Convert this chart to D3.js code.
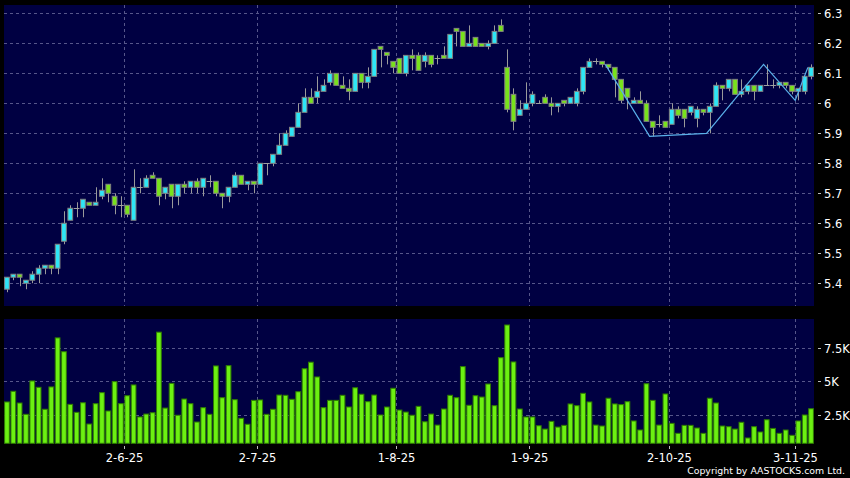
<!DOCTYPE html>
<html>
<head>
<meta charset="utf-8">
<script src="https://cdn.jsdelivr.net/npm/d3@7/dist/d3.min.js"></script>
<style>
  body { margin: 0; background: #000; }
  svg { display: block; font-family: "DejaVu Sans", Verdana, sans-serif; }
</style>
</head>
<body>
<div id="chart"></div>
<script>
// daily OHLC, index 0 = 6 May 2025 ... index 127 = 5 Nov 2025
const opens = [5.38,5.42,5.43,5.40,5.41,5.43,5.45,5.46,5.45,5.54,5.61,5.65,5.65,5.67,5.66,5.69,5.73,5.69,5.66,5.66,
  5.61,5.72,5.72,5.76,5.75,5.70,5.73,5.69,5.73,5.72,5.74,5.72,5.74,5.74,5.70,5.69,5.72,5.76,5.73,5.74,
  5.73,5.80,5.80,5.83,5.86,5.89,5.92,5.97,6.02,6.02,6.04,6.07,6.10,6.06,6.05,6.04,6.10,6.07,6.09,6.19,
  6.17,6.14,6.15,6.10,6.16,6.16,6.14,6.16,6.15,6.16,6.15,6.25,6.24,6.19,6.22,6.20,6.19,6.20,6.26,6.12,
  6.03,5.96,5.98,6.00,6.00,6.02,6.00,5.99,6.01,6.00,6.00,6.04,6.12,6.14,6.14,6.13,6.12,6.08,6.05,6.00,
  6.01,6.00,5.94,5.93,5.94,5.93,5.98,5.98,5.97,5.95,5.98,5.97,5.99,6.06,6.05,6.08,6.03,6.04,6.06,6.04,
  6.06,6.06,6.06,6.07,6.06,6.04,6.04,6.09];
const highs = [5.42,5.43,5.43,5.41,5.44,5.46,5.46,5.46,5.53,5.64,5.66,5.67,5.68,5.67,5.72,5.75,5.73,5.70,5.69,5.66,
  5.78,5.75,5.76,5.77,5.75,5.72,5.73,5.73,5.74,5.74,5.75,5.75,5.76,5.74,5.70,5.72,5.77,5.76,5.74,5.74,
  5.80,5.80,5.83,5.90,5.91,5.92,6.00,6.05,6.05,6.09,6.08,6.11,6.10,6.09,6.08,6.10,6.10,6.12,6.18,6.19,
  6.17,6.14,6.15,6.16,6.18,6.17,6.17,6.16,6.16,6.19,6.23,6.25,6.24,6.26,6.22,6.20,6.21,6.26,6.28,6.18,
  6.05,6.01,6.07,6.04,6.01,6.03,6.02,6.00,6.01,6.02,6.05,6.12,6.15,6.15,6.14,6.13,6.12,6.08,6.05,6.02,
  6.04,6.01,5.94,5.96,5.94,6.00,5.99,5.98,5.99,5.99,5.98,6.00,6.07,6.06,6.08,6.08,6.08,6.06,6.06,6.06,
  6.13,6.08,6.07,6.07,6.06,6.05,6.09,6.13];
const lows = [5.37,5.41,5.39,5.38,5.40,5.40,5.43,5.43,5.43,5.53,5.61,5.62,5.62,5.66,5.66,5.68,5.67,5.63,5.62,5.62,
  5.61,5.70,5.72,5.75,5.66,5.68,5.65,5.66,5.70,5.70,5.70,5.69,5.72,5.69,5.65,5.67,5.72,5.73,5.71,5.70,
  5.73,5.76,5.79,5.83,5.86,5.89,5.92,5.97,6.00,6.00,6.04,6.06,6.06,6.05,6.01,6.04,6.05,6.05,6.09,6.12,
  6.13,6.10,6.10,6.09,6.11,6.11,6.12,6.12,6.13,6.15,6.15,6.19,6.19,6.19,6.19,6.19,6.18,6.20,6.24,5.97,
  5.91,5.96,5.98,5.99,6.00,6.00,5.96,5.97,5.99,6.00,5.99,6.03,6.12,6.13,6.12,6.11,6.02,6.00,5.98,6.00,
  6.00,5.94,5.89,5.92,5.92,5.93,5.95,5.92,5.96,5.92,5.96,5.90,5.99,6.01,6.04,6.03,6.02,6.03,6.01,6.04,
  6.06,6.05,6.05,6.05,6.03,6.01,6.03,6.08];
const closes = [5.42,5.43,5.42,5.41,5.43,5.45,5.46,5.45,5.53,5.60,5.65,5.65,5.68,5.66,5.67,5.71,5.70,5.66,5.66,5.63,
  5.72,5.72,5.75,5.75,5.69,5.72,5.69,5.73,5.72,5.74,5.72,5.75,5.74,5.70,5.69,5.72,5.76,5.73,5.74,5.73,
  5.80,5.80,5.83,5.86,5.90,5.92,5.97,6.02,6.00,6.04,6.06,6.10,6.06,6.05,6.04,6.10,6.07,6.09,6.18,6.18,
  6.16,6.12,6.10,6.16,6.15,6.11,6.16,6.13,6.15,6.15,6.23,6.24,6.19,6.20,6.19,6.19,6.20,6.24,6.24,5.98,
  5.94,5.98,6.00,6.03,6.00,6.00,5.99,6.00,6.00,6.02,6.04,6.12,6.14,6.14,6.13,6.12,6.08,6.01,6.02,6.01,
  6.00,5.94,5.92,5.93,5.92,5.98,5.96,5.95,5.99,5.98,5.97,5.99,6.06,6.05,6.08,6.03,6.04,6.06,6.04,6.06,
  6.06,6.06,6.07,6.06,6.04,6.05,6.09,6.12];
const volumes = [3460,4260,3380,2530,5040,4560,2910,4590,8280,7240,3280,2680,3400,1800,3330,4160,2780,4990,3330,3930,
  4740,2330,2550,2650,8710,3000,4860,2460,3680,3330,1950,3030,2530,6170,3780,6190,3630,2230,1780,3580,
  3610,2530,2910,3980,3960,3660,4230,5960,6450,5340,3030,3580,3580,3960,3080,4530,4040,3480,3980,2480,
  3080,4490,2850,2700,2460,3130,1970,2550,1720,2930,3960,3780,6120,3210,3930,3830,4810,3180,6790,9250,
  6470,2930,2330,2330,1670,1420,2000,1570,1700,3310,3180,4110,3460,1720,1650,3740,3310,3260,3480,2030,
  1350,4830,3580,1720,4060,1850,1100,1700,1700,1500,1100,3740,3380,1650,1600,1420,1930,750,1600,1200,
  2120,1470,1100,1350,950,2030,2480,2950];

const tickIdx = [19, 40, 62, 83, 105, 125];
const tickLabels = ["2-6-25", "2-7-25", "1-8-25", "1-9-25", "2-10-25", "3-11-25"];
const priceTicks = [5.4, 5.5, 5.6, 5.7, 5.8, 5.9, 6.0, 6.1, 6.2, 6.3];
const volTicks = [2500, 5000, 7500];
const volTickLabels = ["2.5K", "5K", "7.5K"];
const zigIdx = [95, 102, 111, 120, 125, 127];
const zigVals = [6.13, 5.89, 5.90, 6.13, 6.01, 6.12];

const width = 850, height = 478;
const left = 4, right = 814;
const svg = d3.select("#chart").append("svg").attr("width", width).attr("height", height);
svg.append("rect").attr("width", width).attr("height", height).attr("fill", "#000");

const idx = d3.range(closes.length);
const x = d3.scaleBand().domain(idx).range([3.8, 814.2]);
const bw = x.bandwidth();

const priceTop = 5, priceBot = 306;
const volTop = 319, volBot = 443.3;
const y = d3.scaleLinear().domain([5.324, 6.328]).range([priceBot, priceTop]);
const yv = d3.scaleLinear().domain([350, 9700]).range([volBot, volTop]);

const navy = "#000042";
const gridColor = "#56568a";

// panels
svg.append("rect").attr("x", left).attr("y", priceTop).attr("width", right - left).attr("height", priceBot - priceTop).attr("fill", navy);
svg.append("rect").attr("x", left).attr("y", volTop).attr("width", right - left).attr("height", volBot - volTop).attr("fill", navy);

// grid
const grid = svg.append("g").attr("stroke", gridColor).attr("stroke-width", 1).attr("stroke-dasharray", "3,3");
grid.selectAll(".hp").data(priceTicks).join("line")
  .attr("x1", left).attr("x2", right)
  .attr("y1", d => Math.round(y(d)) + 0.5).attr("y2", d => Math.round(y(d)) + 0.5);
grid.selectAll(".hv").data(volTicks).join("line")
  .attr("x1", left).attr("x2", right)
  .attr("y1", d => Math.round(yv(d)) + 0.5).attr("y2", d => Math.round(yv(d)) + 0.5);
tickIdx.forEach(i => {
  const xx = Math.round(x(i)) + 0.5;
  grid.append("line").attr("x1", xx).attr("x2", xx).attr("y1", priceTop).attr("y2", priceBot);
  grid.append("line").attr("x1", xx).attr("x2", xx).attr("y1", volTop).attr("y2", volBot);
});

// candles
const up = "#2ee6f6", down = "#78e21c";
const candles = svg.append("g");
idx.forEach(i => {
  const cx = Math.round(x(i) + bw / 2) + 0.5;
  candles.append("line").attr("x1", cx).attr("x2", cx)
    .attr("y1", y(highs[i])).attr("y2", y(lows[i]))
    .attr("stroke", "#9a9a9a").attr("stroke-width", 1);
  const o = opens[i], c = closes[i];
  if (o === c) {
    candles.append("line").attr("x1", x(i) + 0.3).attr("x2", x(i) + bw - 0.3)
      .attr("y1", Math.round(y(c)) + 0.5).attr("y2", Math.round(y(c)) + 0.5)
      .attr("stroke", "#a0a0a0").attr("stroke-width", 1);
  } else {
    const top = y(Math.max(o, c)), bot = y(Math.min(o, c));
    candles.append("rect")
      .attr("x", x(i) + 0.8).attr("width", bw - 1.6)
      .attr("y", top).attr("height", Math.max(1, bot - top))
      .attr("fill", c > o ? up : down)
      .attr("stroke", "#808080").attr("stroke-width", 1);
  }
});

// zigzag
svg.append("path")
  .datum(zigIdx.map((d, k) => [x(d), y(zigVals[k])]))
  .attr("d", d3.line())
  .attr("fill", "none").attr("stroke", "#5ab0ea").attr("stroke-width", 1.2);

// volume bars
svg.append("g").selectAll("rect").data(idx).join("rect")
  .attr("x", i => x(i) + 0.8).attr("width", bw - 1.6)
  .attr("y", i => yv(volumes[i])).attr("height", i => volBot - yv(volumes[i]))
  .attr("fill", "#6cf012").attr("stroke", "#2f7d00").attr("stroke-width", 1);

// right axis
const ax = svg.append("g").attr("fill", "#fff").attr("font-size", 11.5);
priceTicks.forEach(p => {
  const yy = Math.round(y(p)) + 0.5;
  svg.append("line").attr("x1", 818).attr("x2", 821).attr("y1", yy).attr("y2", yy).attr("stroke", "#bbb");
  ax.append("text").attr("x", 824).attr("y", yy).attr("dy", "0.36em").text(d3.format(".1f")(p).replace(/\.0$/, ""));
});
volTicks.forEach((v, k) => {
  const yy = Math.round(yv(v)) + 0.5;
  svg.append("line").attr("x1", 818).attr("x2", 821).attr("y1", yy).attr("y2", yy).attr("stroke", "#bbb");
  ax.append("text").attr("x", 824).attr("y", yy).attr("dy", "0.36em").text(volTickLabels[k]);
});

// bottom axis
tickIdx.forEach((i, k) => {
  const xx = Math.round(x(i)) + 0.5;
  svg.append("line").attr("x1", xx).attr("x2", xx).attr("y1", 446).attr("y2", 449).attr("stroke", "#bbb");
  ax.append("text").attr("x", xx).attr("y", 462).attr("text-anchor", "middle").text(tickLabels[k]);
});

svg.append("text").attr("x", 845).attr("y", 473.5).attr("text-anchor", "end")
  .attr("fill", "#fff").attr("font-size", 9.4)
  .text("Copyright by AASTOCKS.com Ltd.");
</script>
</body>
</html>
